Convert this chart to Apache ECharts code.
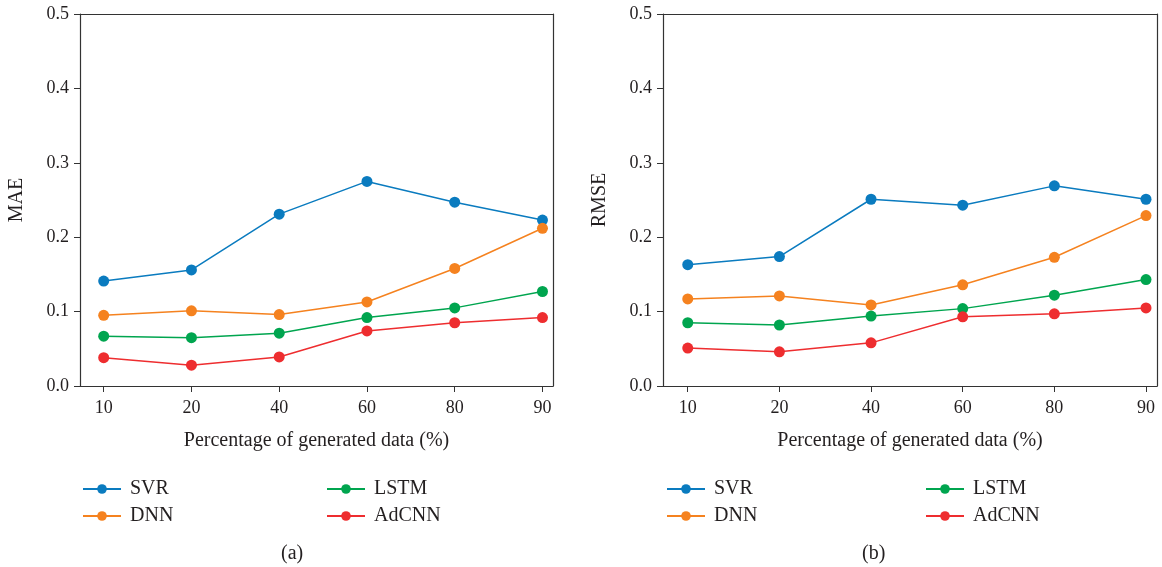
<!DOCTYPE html>
<html><head><meta charset="utf-8">
<script src="https://cdn.jsdelivr.net/npm/echarts@6/dist/echarts.min.js"></script>
<style>html,body{margin:0;padding:0;background:#fff}#c{width:1162px;height:567px}</style>
</head><body><div id="c"></div>
<script>
const categories = ['10','20','40','60','80','90'];
const seriesNames = ['SVR','DNN','LSTM','AdCNN'];
const maeSVR   = [0.141,0.156,0.231,0.275,0.247,0.223];
const maeDNN   = [0.095,0.101,0.096,0.113,0.158,0.212];
const maeLSTM  = [0.067,0.065,0.071,0.092,0.105,0.127];
const maeAdCNN = [0.038,0.028,0.039,0.074,0.085,0.092];
const rmseSVR   = [0.163,0.174,0.251,0.243,0.269,0.251];
const rmseDNN   = [0.117,0.121,0.109,0.136,0.173,0.229];
const rmseLSTM  = [0.085,0.082,0.094,0.104,0.122,0.143];
const rmseAdCNN = [0.051,0.046,0.058,0.093,0.097,0.105];
const yTicks = [0,0.1,0.2,0.3,0.4,0.5];
const colors = {SVR:'#0a7bbf', DNN:'#f5821f', LSTM:'#00a54f', AdCNN:'#ee2d2f'};

const FONT = '"Liberation Serif","DejaVu Serif",serif';
const AX = '#333';
const TXT = '#231f20';
const idx = categories.map((_,i)=>i);

function xAxis(gi){
  return {type:'value', gridIndex:gi, min:-0.27, max:5.12,
    name:'Percentage of generated data (%)', nameLocation:'middle', nameGap:45,
    nameTextStyle:{fontFamily:FONT, fontSize:20, color:TXT},
    axisLine:{show:true, onZero:false, lineStyle:{color:AX, width:1.2}},
    axisTick:{show:true, length:6, customValues:idx, lineStyle:{color:AX}},
    axisLabel:{customValues:idx, formatter:v=>categories[Math.round(v)], fontFamily:FONT, fontSize:18, color:TXT, margin:13},
    splitLine:{show:false}};
}
function xTop(gi){
  return {type:'value', gridIndex:gi, position:'top', min:-0.27, max:5.12,
    axisLine:{show:true, onZero:false, lineStyle:{color:AX, width:1.2}}, axisTick:{show:false}, axisLabel:{show:false}, splitLine:{show:false}};
}
function yAxis(gi,name){
  return {type:'value', gridIndex:gi, min:0, max:0.5, interval:0.1,
    name:name, nameLocation:'middle', nameGap:53,
    nameTextStyle:{fontFamily:FONT, fontSize:20, color:TXT},
    axisLine:{show:true, onZero:false, lineStyle:{color:AX, width:1.2}},
    axisTick:{show:true, length:6, lineStyle:{color:AX}},
    axisLabel:{formatter:v=>v.toFixed(1), fontFamily:FONT, fontSize:18, color:TXT, margin:11},
    splitLine:{show:false}};
}
function yRight(gi){
  return {type:'value', gridIndex:gi, position:'right', min:0, max:0.5, interval:0.1,
    axisLine:{show:true, onZero:false, lineStyle:{color:AX, width:1.2}}, axisTick:{show:false}, axisLabel:{show:false}, splitLine:{show:false}};
}
function ser(name, vals, ax){
  return {name, type:'line', xAxisIndex:ax, yAxisIndex:ax, data:vals.map((v,i)=>[i,v]),
    symbol:'circle', symbolSize:11, color:colors[name],
    lineStyle:{width:1.5, color:colors[name]}, itemStyle:{color:colors[name]}};
}
function legend(left, names){
  return {left, top:474, orient:'vertical', itemGap:7, itemWidth:38, itemHeight:12,
    data:names, textStyle:{fontFamily:FONT, fontSize:20, color:TXT, padding:[0,0,0,4]}};
}

const chart = echarts.init(document.getElementById('c'), null, {renderer:'canvas'});
chart.setOption({
  animation:false,
  backgroundColor:'#fff',
  grid:[{left:80, right:609, top:14, bottom:181},{left:663, right:5, top:14, bottom:181}],
  xAxis:[xAxis(0), xAxis(1), xTop(0), xTop(1)],
  yAxis:[yAxis(0,'MAE'), yAxis(1,'RMSE'), yRight(0), yRight(1)],
  legend:[legend(77,['SVR','DNN']), legend(321,['LSTM','AdCNN']), legend(661,['SVR','DNN']), legend(920,['LSTM','AdCNN'])],
  title:[{text:'(a)', left:276, top:539, textStyle:{fontFamily:FONT, fontSize:20, fontWeight:'normal', color:TXT}},
         {text:'(b)', left:857, top:539, textStyle:{fontFamily:FONT, fontSize:20, fontWeight:'normal', color:TXT}}],
  series:[ser('SVR',maeSVR,0), ser('DNN',maeDNN,0), ser('LSTM',maeLSTM,0), ser('AdCNN',maeAdCNN,0),
          ser('SVR',rmseSVR,1), ser('DNN',rmseDNN,1), ser('LSTM',rmseLSTM,1), ser('AdCNN',rmseAdCNN,1)]
});
</script></body></html>
